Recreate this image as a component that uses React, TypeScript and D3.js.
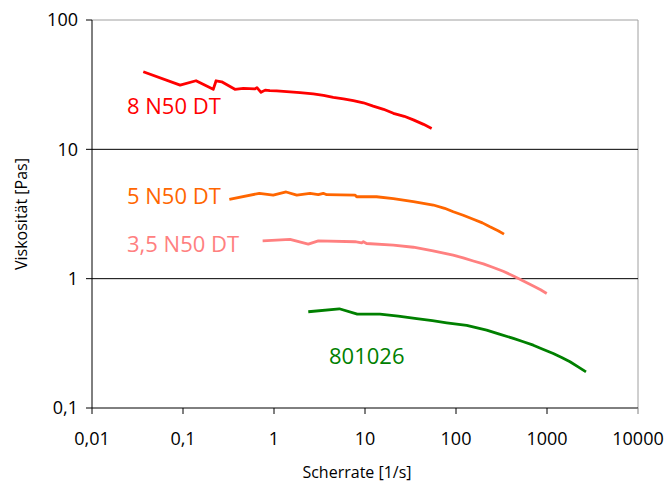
import React from "react";
import * as d3 from "d3";

const redX = [0.0366, 0.093, 0.139, 0.215, 0.231, 0.266, 0.372, 0.46, 0.618, 0.65, 0.72, 0.8, 0.9, 1.07, 1.38, 1.93, 2.7, 3.5, 4.48, 5.8, 7.44, 9.6, 12.3, 16, 20.5, 27, 34, 44, 54];
const redY = [39.8, 31.4, 33.9, 29.1, 33.9, 33.3, 29.1, 29.6, 29.3, 30.0, 27.6, 28.7, 28.4, 28.3, 27.9, 27.4, 26.8, 26.1, 25.2, 24.6, 23.8, 22.9, 21.6, 20.4, 19.0, 18.0, 16.9, 15.6, 14.5];

const orangeX = [0.323, 0.69, 0.98, 1.36, 1.78, 2.49, 3.07, 3.48, 3.79, 7.76, 8.1, 13.4, 20.5, 34, 56.3, 75, 93.4, 120, 155, 195, 236, 290, 337];
const orangeY = [4.1, 4.57, 4.43, 4.68, 4.42, 4.57, 4.46, 4.57, 4.46, 4.43, 4.3, 4.3, 4.15, 3.94, 3.71, 3.5, 3.29, 3.09, 2.88, 2.7, 2.52, 2.35, 2.21];

const pinkX = [0.75, 1.5, 2.38, 3.07, 7.76, 9.2, 9.6, 10.4, 20.5, 34, 56, 93, 120, 155, 200, 257, 330, 427, 550, 707, 850, 993];
const pinkY = [1.96, 2.01, 1.85, 1.96, 1.93, 1.89, 1.93, 1.87, 1.82, 1.75, 1.64, 1.52, 1.45, 1.37, 1.3, 1.22, 1.14, 1.05, 0.96, 0.877, 0.82, 0.769];

const greenX = [2.38, 5.22, 8.23, 14.6, 23.2, 37, 55, 79, 131, 217, 300, 427, 550, 707, 900, 1172, 1450, 1790, 2200, 2683];
const greenY = [0.555, 0.585, 0.532, 0.532, 0.514, 0.49, 0.473, 0.456, 0.435, 0.4, 0.373, 0.345, 0.325, 0.306, 0.285, 0.264, 0.246, 0.228, 0.208, 0.19];

const seriesNames = ["8 N50 DT", "5 N50 DT", "3,5 N50 DT", "801026"];
const seriesColors = ["#FF0000", "#FF6600", "#FF8080", "#008000"];
const labelX = [127, 127, 127, 329];
const labelY = [114, 204, 252, 364];

const xTicks = [0.01, 0.1, 1, 10, 100, 1000, 10000];
const xTickLabels = ["0,01", "0,1", "1", "10", "100", "1000", "10000"];
const yTicks = [0.1, 1, 10, 100];
const yTickLabels = ["0,1", "1", "10", "100"];

const W = 666, H = 484;
const L = 92, R = 638, T = 20, B = 408;
const FONT = "'Open Sans', sans-serif";

export default function App() {
  const x = d3.scaleLog().domain([0.01, 10000]).range([L, R]);
  const y = d3.scaleLog().domain([0.1, 100]).range([B, T]);
  const line = d3.line<[number, number]>().x(d => x(d[0])).y(d => y(d[1]));
  const series = [
    [redX, redY],
    [orangeX, orangeY],
    [pinkX, pinkY],
    [greenX, greenY],
  ].map(([xs, ys]) => xs.map((v, i) => [v, ys[i]] as [number, number]));

  return (
    <svg width={W} height={H} style={{ position: "absolute", left: 0, top: 0, background: "#fff" }} fontFamily={FONT}>
      <rect x={0} y={0} width={W} height={H} fill="#fff" />
      <line x1={L} x2={R} y1={y(100)} y2={y(100)} stroke="#a0a0a0" strokeWidth={1} />
      <line x1={R} x2={R} y1={T} y2={B} stroke="#a0a0a0" strokeWidth={1} />
      {[1, 10].map(v => (
        <line key={v} x1={L} x2={R} y1={y(v)} y2={y(v)} stroke="#000" strokeWidth={1} />
      ))}
      <line x1={L} x2={R} y1={B} y2={B} stroke="#000" strokeWidth={1} />
      <line x1={L} x2={L} y1={T} y2={B} stroke="#000" strokeWidth={1} />
      {xTicks.map((v, i) => (
        <g key={v}>
          <line x1={x(v)} x2={x(v)} y1={B} y2={B + 6} stroke={i === xTicks.length - 1 ? "#808080" : "#000"} />
          <text x={x(v)} y={B + 37} textAnchor="middle" fontSize={18} fill="#000">{xTickLabels[i]}</text>
        </g>
      ))}
      {yTicks.map((v, i) => (
        <g key={v}>
          <line x1={L - 6} x2={L} y1={y(v)} y2={y(v)} stroke="#000" />
          <text x={L - 14} y={y(v)} dy="0.35em" textAnchor="end" fontSize={18} fill="#000">{yTickLabels[i]}</text>
        </g>
      ))}
      <text x={357} y={478} textAnchor="middle" fontSize={16} fill="#000">Scherrate [1/s]</text>
      <text transform={`translate(27,${(T + B) / 2}) rotate(-90)`} textAnchor="middle" fontSize={16} fill="#000">Viskosität [Pas]</text>
      {series.map((s, i) => (
        <path key={i} d={line(s) || ""} fill="none" stroke={seriesColors[i]} strokeWidth={2.8} strokeLinejoin="round" />
      ))}
      {seriesNames.map((n, i) => (
        <text key={n} x={labelX[i]} y={labelY[i]} fontSize={22} fill={seriesColors[i]}>{n}</text>
      ))}
    </svg>
  );
}
